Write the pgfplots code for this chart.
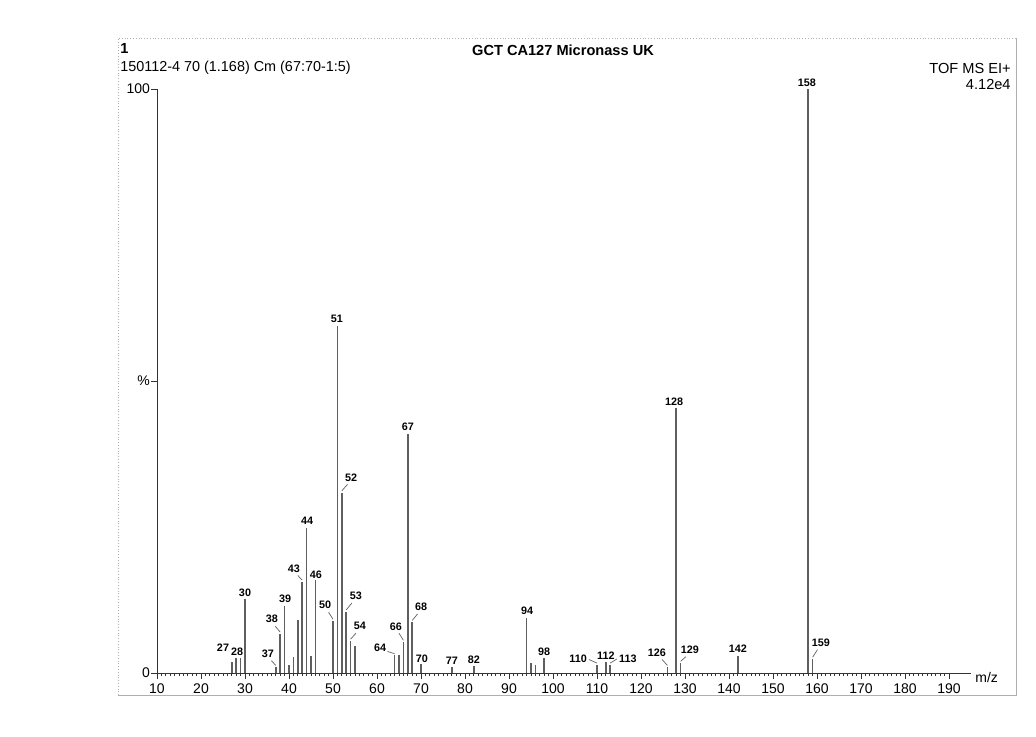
\documentclass[border=0pt]{standalone}
\usepackage{pgfplots}
\pgfplotsset{compat=1.18}
\usepackage{pgfplotstable}
\usepackage{fontspec}
\setmainfont{Liberation Sans}

\definecolor{peak}{RGB}{95,95,95}
\definecolor{frame}{RGB}{175,175,175}

% m/z and relative intensity (%)
\pgfplotstableread{
m    y
27   1.9
28   2.5
29   2.5
30   12.6
37   1.0
38   6.7
39   11.5
40   1.4
41   2.7
42   9.1
43   15.6
44   24.8
45   2.9
46   15.9
50   8.9
51   59.5
52   30.9
53   10.5
54   5.5
55   4.6
64   3.1
65   3.1
66   5.3
67   41.0
68   8.7
70   1.5
77   1.0
82   1.2
94   9.4
95   1.7
96   1.4
98   2.6
110  1.4
112  1.9
113  1.4
126  1.0
128  45.3
129  1.7
142  2.9
158  100
159  2.4
}\peaks

\newcommand{\pk}[3]{\node[font=\bfseries\fontsize{5.4}{6}\selectfont,inner sep=0pt] at (axis cs:#1,#2) {#3};}
\newcommand{\ld}[4]{\draw[peak,line width=0.35pt] (axis cs:#1,#2) -- (axis cs:#3,#4);}

\begin{document}
\begin{tikzpicture}
\begin{axis}[
  at={(78.5pt,31.5pt)}, anchor=south west,
  scale only axis, width=407pt, height=292pt,
  xmin=10, xmax=195, ymin=0, ymax=100,
  axis x line=bottom, axis y line=left,
  x axis line style={-}, y axis line style={-},
  axis line style={black!80, line width=0.5pt},
  clip=false,
  xtick={10,20,...,190}, minor x tick num=9,
  ytick={0,50,100}, yticklabels={0,\%,100},
  tick align=outside,
  major tick length=3pt, minor tick length=1.6pt,
  every tick/.style={black!80, line width=0.4pt},
  tick label style={font=\fontsize{7}{8}\selectfont},
  /pgf/number format/assume math mode=true,
  xticklabel style={yshift=1pt},
  yticklabel style={xshift=3pt},
]
\addplot[ycomb, peak, line width=0.75pt, mark=none] table[x=m, y=y] {\peaks};

\pk{25.0}{4.4}{27}
\pk{28.2}{3.6}{28}
\pk{30.0}{13.8}{30}
\pk{35.2}{3.3}{37}
\pk{36.1}{9.2}{38}
\pk{39.1}{12.7}{39}
\pk{41.1}{17.9}{43}
\pk{44.1}{26.0}{44}
\pk{46.1}{16.9}{46}
\pk{48.2}{11.6}{50}
\pk{50.9}{60.7}{51}
\pk{54.1}{33.5}{52}
\pk{55.2}{13.2}{53}
\pk{56.1}{8.0}{54}
\pk{60.7}{4.3}{64}
\pk{64.3}{8.0}{66}
\pk{67.0}{42.2}{67}
\pk{70.0}{11.3}{68}
\pk{70.2}{2.5}{70}
\pk{77.0}{2.1}{77}
\pk{82.0}{2.2}{82}
\pk{94.1}{10.6}{94}
\pk{98.0}{3.7}{98}
\pk{105.7}{2.4}{110}
\pk{112.0}{2.9}{112}
\pk{117.0}{2.4}{113}
\pk{123.6}{3.4}{126}
\pk{127.5}{46.5}{128}
\pk{131.1}{3.9}{129}
\pk{142.0}{4.1}{142}
\pk{157.7}{101.1}{158}
\pk{160.9}{5.1}{159}

\ld{37}{1.3}{36.0}{2.1}
\ld{38}{7.0}{36.9}{8.0}
\ld{43}{15.9}{42.0}{16.7}
\ld{50}{9.2}{49.0}{10.4}
\ld{52}{31.2}{53.3}{32.3}
\ld{53}{10.8}{54.3}{12.0}
\ld{54}{5.8}{55.2}{6.8}
\ld{64}{3.3}{62.4}{3.7}
\ld{66}{5.6}{65.0}{6.8}
\ld{68}{9.0}{69.2}{10.1}
\ld{110}{1.7}{108.2}{2.3}
\ld{113}{1.7}{114.5}{2.4}
\ld{126}{1.3}{124.8}{2.3}
\ld{129}{2.0}{130.2}{2.8}
\ld{159}{2.7}{160.1}{4.0}
\end{axis}

% page text and frame, in pixel units of the reference
\begin{scope}[x=0.5pt, y=-0.5pt, shift={(0,368pt)}]
  \draw[frame, line width=0.4pt, densely dotted] (118,695) -- (118,38) -- (1016,38);
  \draw[frame, line width=0.4pt] (1016,38) -- (1016,695) -- (118,695);
  \node[anchor=west, inner sep=0pt, font=\bfseries\fontsize{7.3}{8}\selectfont] at (120,48) {1};
  \node[anchor=west, inner sep=0pt, font=\fontsize{7.2}{8}\selectfont] at (120,68) {150112-4 70 (1.168) Cm (67:70-1:5)};
  \node[inner sep=0pt, font=\bfseries\fontsize{7.3}{8}\selectfont] at (563,50) {GCT CA127 Micronass UK};
  \node[anchor=east, inner sep=0pt, font=\fontsize{7.3}{8}\selectfont] at (1011,68) {TOF MS EI+};
  \node[anchor=east, inner sep=0pt, font=\fontsize{7.3}{8}\selectfont] at (1011,84) {4.12e4};
  \node[anchor=west, inner sep=0pt, font=\fontsize{7}{8}\selectfont] at (975,677) {m/z};
\end{scope}

\pgfresetboundingbox
\path[use as bounding box] (0,0) rectangle (518pt,368pt);
\end{tikzpicture}
\end{document}
